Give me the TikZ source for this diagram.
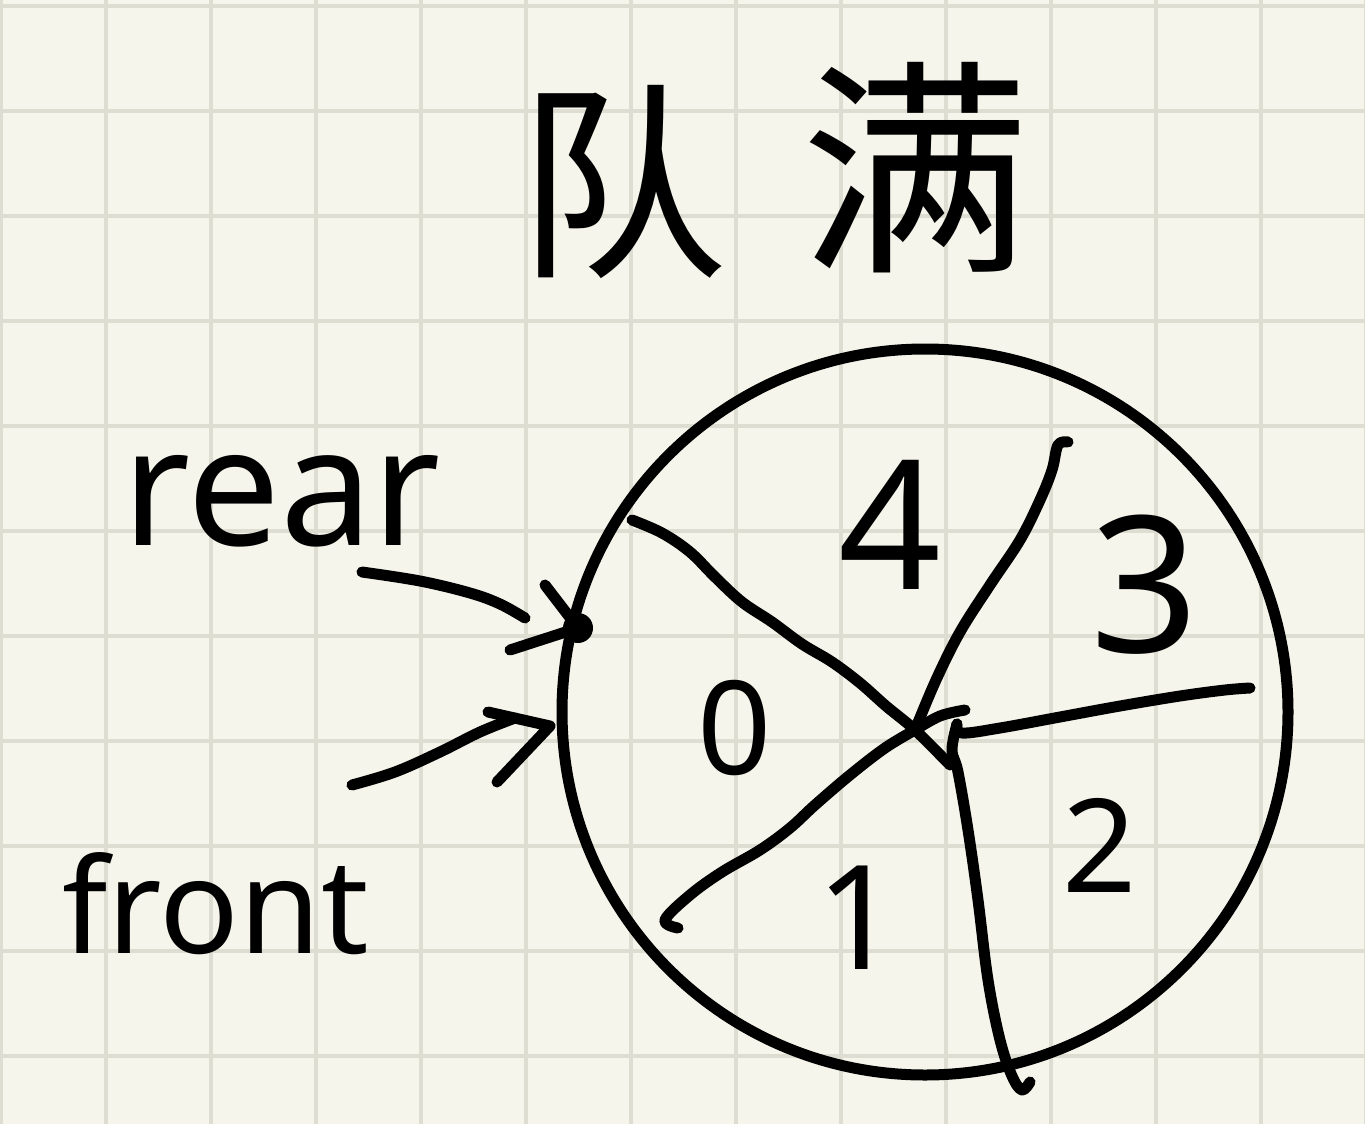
\documentclass[tikz,border=0pt]{standalone}
\usepackage{fontspec}
\setmainfont{Noto Sans}
\newfontfamily\cjk{Noto Sans CJK SC}
\definecolor{paper}{RGB}{246,245,235}
\definecolor{gridc}{RGB}{221,221,209}
\begin{document}
\begin{tikzpicture}[x=1pt,y=-1pt,
  ink/.style={line width=11pt,line cap=round,line join=round,black},
  lbl/.style={inner sep=0pt,text=black},
  digit/.style={lbl,font=\fontsize{#1}{#1}\selectfont},
]
\fill[paper] (0,0) rectangle (1365,1124);
\useasboundingbox (0,0) rectangle (1365,1124);
\foreach \k in {0,...,13} \draw[gridc,line width=3.5pt] (1+105*\k,0) -- (1+105*\k,1124);
\foreach \k in {0,...,10} \draw[gridc,line width=3.5pt] (0,6+105*\k) -- (1365,6+105*\k);

% title
\node[lbl,font=\cjk\fontsize{210}{210}\selectfont] (tdui) at (622,182) {队};
\node[lbl,font=\cjk\fontsize{230}{230}\selectfont] (tman) at (915,168) {满};

% circle
\node[draw,ink,circle,minimum size=726pt,inner sep=0pt] (ring) at (925,712) {};
\coordinate (hub) at (915,730);
\coordinate (hubr) at (957,724);
\coordinate (e0) at (632,520);
\coordinate (e4) at (1068,442);
\coordinate (e3) at (1250,688);
\coordinate (e2) at (1030,1082);
\coordinate (e1) at (678,928);

% spokes
\draw[ink] plot[smooth,tension=0.6] coordinates {(e0) (662,533) (690,552) (715,577) (742,602) (772,622) (802,644) (832,662) (860,683) (886,706) (hub) (950,765)};
\draw[ink] plot[smooth,tension=0.6] coordinates {(e4) (1058,445) (1052,470) (1040,500) (1020,540) (990,585) (960,632) (936,680) (hub)};
\draw[ink] plot[smooth,tension=0.6] coordinates {(hub) (940,716) (965,710)};
\draw[ink] plot[smooth,tension=0.6] coordinates {(hubr) (962,733) (1000,728) (1060,717) (1120,706) (1180,696) (1225,690) (e3)};
\draw[ink] plot[smooth,tension=0.6] coordinates {(hubr) (952,750) (958,772) (968,830) (978,900) (988,980) (1000,1040) (1012,1076) (1022,1090) (e2)};
\draw[ink] plot[smooth,tension=0.6] coordinates {(hub) (885,748) (850,775) (815,805) (790,828) (760,850) (722,872) (690,895) (665,920) (e1)};

% sector labels
\node[digit=130] (n0) at (735,728) {0};
\node[digit=145] (n1) at (858,918) {1};
\node[digit=130] (n2) at (1100,845) {2};
\node[digit=190] (n3) at (1145,585) {3};
\node[digit=180] (n4) at (890,525) {4};

% pointers
\node[lbl,font=\fontsize{165}{165}\selectfont,anchor=base west] (rear) at (122,545) {rear};
\node[lbl,font=\fontsize{132}{132}\selectfont,anchor=base west] (front) at (62,953) {front};
\coordinate (rtip) at (578,628);
\coordinate (ftip) at (550,726);
\fill (rtip) circle (15pt);
\draw[ink] plot[smooth,tension=0.6] coordinates {(362,572) (420,581) (470,593) (500,604) (525,618)};
\draw[ink] (545,585) -- (rtip) -- (510,650);
\draw[ink] plot[smooth,tension=0.6] coordinates {(352,785) (395,772) (440,752) (480,732) (515,718)};
\draw[ink] (488,712) -- (ftip) -- (497,782);
\end{tikzpicture}
\end{document}
